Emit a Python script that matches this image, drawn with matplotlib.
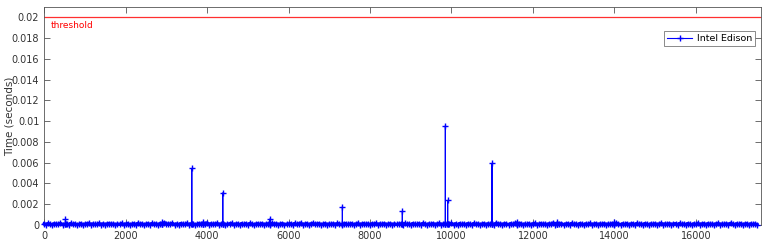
import numpy as np
import matplotlib
matplotlib.use("Agg")
import matplotlib.pyplot as plt

# baseline samples (every 50 iterations), seconds
base_x = list(range(0, 17550, 50))
base_y = [
    0.00012, 0.00004, 0.00015, 0.00006, 0.00003, 0.00014, 0.00005, 0.00009, 0.00016, 0.00004,
    0.00007, 0.00013, 0.00003, 0.00015, 0.00005, 0.00012, 0.00004, 0.00006, 0.00014, 0.00003,
    0.00009, 0.00013, 0.00016, 0.00004, 0.00011, 0.00005, 0.00007, 0.00015, 0.00003, 0.00012,
    0.00004, 0.00012, 0.00014, 0.00005, 0.00011, 0.00003, 0.00010, 0.00006, 0.00015, 0.00004,
    0.00009, 0.00014, 0.00003, 0.00008, 0.00013, 0.00004, 0.00016, 0.00005, 0.00012, 0.00003,
    0.00009, 0.00013, 0.00004, 0.00015, 0.00005, 0.00012, 0.00003, 0.00014, 0.00007, 0.00022,
    0.00013, 0.00005, 0.00012, 0.00016, 0.00003, 0.00011, 0.00004, 0.00014, 0.00009, 0.00005,
    0.00015, 0.00004, 0.00011, 0.00013, 0.00003, 0.00007, 0.00014, 0.00005, 0.00009, 0.00011,
    0.00020, 0.00004, 0.00013, 0.00005, 0.00012, 0.00015, 0.00003, 0.00011, 0.00014, 0.00004,
    0.00008, 0.00013, 0.00016, 0.00004, 0.00009, 0.00012, 0.00003, 0.00014, 0.00005, 0.00013,
    0.00004, 0.00015, 0.00009, 0.00003, 0.00010, 0.00013, 0.00005, 0.00014, 0.00004, 0.00010,
    0.00012, 0.00003, 0.00016, 0.00005, 0.00013, 0.00004, 0.00010, 0.00014, 0.00003, 0.00009,
    0.00011, 0.00013, 0.00004, 0.00015, 0.00005, 0.00012, 0.00018, 0.00004, 0.00009, 0.00014,
    0.00003, 0.00012, 0.00016, 0.00005, 0.00011, 0.00013, 0.00004, 0.00009, 0.00014, 0.00003,
    0.00011, 0.00005, 0.00013, 0.00004, 0.00015, 0.00009, 0.00003, 0.00011, 0.00014, 0.00005,
    0.00010, 0.00013, 0.00004, 0.00009, 0.00016, 0.00003, 0.00010, 0.00014, 0.00005, 0.00012,
    0.00004, 0.00013, 0.00009, 0.00015, 0.00003, 0.00012, 0.00005, 0.00014, 0.00004, 0.00010,
    0.00013, 0.00003, 0.00012, 0.00005, 0.00010, 0.00012, 0.00004, 0.00015, 0.00006, 0.00011,
    0.00003, 0.00014, 0.00008, 0.00005, 0.00013, 0.00004, 0.00016, 0.00009, 0.00003, 0.00012,
    0.00005, 0.00014, 0.00004, 0.00011, 0.00015, 0.00003, 0.00010, 0.00013, 0.00005, 0.00009,
    0.00016, 0.00004, 0.00012, 0.00003, 0.00014, 0.00006, 0.00011, 0.00004, 0.00013, 0.00009,
    0.00003, 0.00015, 0.00005, 0.00012, 0.00004, 0.00010, 0.00014, 0.00003, 0.00013, 0.00006,
    0.00011, 0.00004, 0.00019, 0.00005, 0.00012, 0.00003, 0.00014, 0.00009, 0.00004, 0.00013,
    0.00005, 0.00016, 0.00003, 0.00011, 0.00014, 0.00004, 0.00010, 0.00005, 0.00013, 0.00003,
    0.00012, 0.00015, 0.00004, 0.00009, 0.00014, 0.00005, 0.00011, 0.00003, 0.00013, 0.00006,
    0.00020, 0.00004, 0.00012, 0.00005, 0.00014, 0.00003, 0.00010, 0.00013, 0.00004, 0.00016,
    0.00005, 0.00011, 0.00003, 0.00014, 0.00009, 0.00004, 0.00012, 0.00005, 0.00015, 0.00003,
    0.00010, 0.00013, 0.00004, 0.00012, 0.00006, 0.00014, 0.00003, 0.00011, 0.00005, 0.00013,
    0.00004, 0.00016, 0.00009, 0.00003, 0.00012, 0.00005, 0.00014, 0.00004, 0.00010, 0.00013,
    0.00003, 0.00015, 0.00005, 0.00011, 0.00004, 0.00014, 0.00009, 0.00003, 0.00012, 0.00005,
    0.00013, 0.00004, 0.00010, 0.00016, 0.00003, 0.00012, 0.00005, 0.00014, 0.00004, 0.00011,
    0.00013, 0.00003, 0.00015, 0.00005, 0.00010, 0.00004, 0.00014, 0.00009, 0.00003, 0.00012,
    0.00005, 0.00016, 0.00004, 0.00011, 0.00013, 0.00003, 0.00014, 0.00005, 0.00010, 0.00004,
    0.00012, 0.00015, 0.00003, 0.00011, 0.00005, 0.00013, 0.00004, 0.00017, 0.00009, 0.00003,
    0.00012, 0.00005, 0.00014, 0.00004, 0.00010, 0.00013, 0.00003, 0.00012, 0.00005, 0.00011,
    0.00004,
]

# outliers, with the samples right before and after each one
spike_x = [523, 2900, 3624, 3900, 4385, 5538, 7321, 8793, 9849, 9906, 10994, 11600, 12600, 14000]
spike_y = [0.00055, 0.00025, 0.00545, 0.00030, 0.00310, 0.00058, 0.00176, 0.00132,
           0.00955, 0.00237, 0.00593, 0.00030, 0.00030, 0.00025]
spike_before = [0.00008, 0.00006, 0.00010, 0.00007, 0.00009, 0.00006, 0.00008, 0.00010,
                0.00007, 0.00009, 0.00008, 0.00006, 0.00009, 0.00007]
spike_after = [0.00007, 0.00009, 0.00006, 0.00010, 0.00008, 0.00009, 0.00007, 0.00006,
               0.00010, 0.00008, 0.00009, 0.00007, 0.00006, 0.00010]

threshold = 0.02

n = min(len(base_x), len(base_y))
bx = np.array(base_x[:n], dtype=float)
by = np.array(base_y[:n])
x = np.concatenate([bx, spike_x, [s - 1 for s in spike_x], [s + 1 for s in spike_x]])
y = np.concatenate([by, spike_y, spike_before, spike_after])
order = np.argsort(x, kind="stable")
x, y = x[order], y[order]

grey = "#555555"
plt.rcParams['font.family'] = ['DejaVu Sans']

fig = plt.figure(figsize=(7.75, 2.43), dpi=100)
ax = fig.add_axes([0.057, 0.074, 0.925, 0.897])

# the many near-zero samples pile up into a solid band
ax.plot(bx, by, color="blue", linewidth=2.4, clip_on=False, zorder=3)
ax.plot(x, y, color="blue", linewidth=0.8, marker="+", markersize=4.5,
        markeredgewidth=1.0, label="Intel Edison", clip_on=False, zorder=3)
ax.axhline(threshold, color="#ff3030", linewidth=0.9)
ax.text(170, 0.0192, "threshold", color="red", fontsize=6.5, va="center", ha="left")

ax.set_xlim(0, 17600)
ax.set_ylim(0, 0.021)
ax.set_xticks(np.arange(0, 17000, 2000))
ax.set_yticks(np.arange(0, 0.0201, 0.002))
ax.set_yticklabels(["0", "0.002", "0.004", "0.006", "0.008", "0.01", "0.012",
                    "0.014", "0.016", "0.018", "0.02"])
ax.tick_params(direction="in", top=True, right=True, labelsize=7, colors=grey,
               length=4, width=0.6, labelcolor="#333333")
ax.tick_params(axis="x", pad=4)
for s in ax.spines.values():
    s.set_color(grey)
    s.set_linewidth(0.6)
ax.set_ylabel("Time (seconds)", fontsize=7.5, color="#333333")
ax.yaxis.set_label_coords(-0.042, 0.5)

leg = ax.legend(loc="upper right", fontsize=6.8, frameon=True, fancybox=False,
                edgecolor=grey, borderpad=0.3, handlelength=2.6, handletextpad=0.5,
                borderaxespad=0, bbox_to_anchor=(0.991, 0.89))
leg.get_frame().set_linewidth(0.6)

fig.savefig("out.png", dpi=100)
